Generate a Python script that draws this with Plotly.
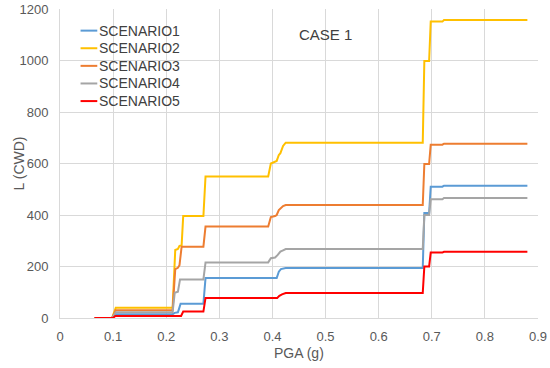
import plotly.graph_objects as go

# ---- data ----
s1_x = [0.065, 0.098, 0.105, 0.212, 0.216, 0.222, 0.227, 0.270, 0.274, 0.408, 0.412, 0.416, 0.425,
        0.683, 0.686, 0.695, 0.698, 0.720, 0.723, 0.880]
s1_y = [0, 0, 15, 15, 20, 22, 55, 55, 155, 155, 180, 190, 194, 194, 408, 408, 510, 510, 514, 514]

s2_x = [0.065, 0.098, 0.105, 0.212, 0.217, 0.222, 0.225, 0.229, 0.232, 0.270, 0.274, 0.392, 0.397,
        0.405, 0.408, 0.412, 0.415, 0.420, 0.425, 0.683, 0.686, 0.695, 0.698, 0.720, 0.723, 0.880]
s2_y = [0, 0, 40, 40, 264, 268, 280, 282, 396, 396, 550, 550, 600, 607, 610, 633, 640, 668, 681,
        681, 998, 998, 1151, 1151, 1157, 1157]

s3_x = [0.065, 0.098, 0.105, 0.212, 0.217, 0.222, 0.225, 0.229, 0.270, 0.274, 0.392, 0.397, 0.405,
        0.408, 0.412, 0.415, 0.420, 0.425, 0.683, 0.686, 0.695, 0.698, 0.720, 0.723, 0.880]
s3_y = [0, 0, 30, 30, 190, 195, 205, 277, 277, 355, 355, 392, 396, 400, 419, 425, 435, 439, 439,
        598, 598, 673, 673, 677, 677]

s4_x = [0.065, 0.098, 0.105, 0.212, 0.216, 0.222, 0.226, 0.270, 0.274, 0.392, 0.397, 0.405, 0.410,
        0.415, 0.420, 0.425, 0.683, 0.686, 0.695, 0.698, 0.720, 0.723, 0.880]
s4_y = [0, 0, 22, 22, 98, 102, 150, 150, 216, 216, 232, 235, 245, 258, 263, 268, 268, 400, 400,
        461, 461, 466, 466]

s5_x = [0.065, 0.100, 0.104, 0.228, 0.232, 0.270, 0.274, 0.409, 0.413, 0.418, 0.425, 0.683, 0.686,
        0.695, 0.698, 0.720, 0.723, 0.880]
s5_y = [0, 0, 8, 8, 25, 25, 78, 78, 86, 92, 97, 97, 200, 200, 254, 254, 257, 257]

names = ["SCENARIO1", "SCENARIO2", "SCENARIO3", "SCENARIO4", "SCENARIO5"]
colors = ["#5B9BD5", "#FFC000", "#ED7D31", "#A5A5A5", "#FF0000"]
x_ticks = [0, 0.1, 0.2, 0.3, 0.4, 0.5, 0.6, 0.7, 0.8, 0.9]
x_tick_labels = ["0", "0.1", "0.2", "0.3", "0.4", "0.5", "0.6", "0.7", "0.8", "0.9"]
y_ticks = [0, 200, 400, 600, 800, 1000, 1200]

series = [(s1_x, s1_y), (s2_x, s2_y), (s3_x, s3_y), (s4_x, s4_y), (s5_x, s5_y)]

fig = go.Figure()
for (xs, ys), name, col in zip(series, names, colors):
    fig.add_trace(go.Scatter(x=xs, y=ys, mode="lines", name=name, showlegend=False,
                             line=dict(color=col, width=2)))

font = "Liberation Sans, Arial, sans-serif"
grid = "#D9D9D9"

# Legend built as layout items (Excel-style compact legend)
annotations = []
shapes = []
leg_top = 0.930      # paper y of first row centre
leg_step = 0.0570    # paper y spacing between rows
for i, (name, col) in enumerate(zip(names, colors)):
    yy = leg_top - i * leg_step
    shapes.append(dict(type="line", xref="paper", yref="paper",
                       x0=0.043, x1=0.078, y0=yy, y1=yy,
                       line=dict(color=col, width=2)))
    annotations.append(dict(text=name, x=0.077, y=yy, xref="paper", yref="paper",
                            showarrow=False, xanchor="left", yanchor="middle",
                            font=dict(size=14, color="#404040")))

annotations += [
    dict(text="CASE 1", x=0.5, y=1100, xref="x", yref="y",
         showarrow=False, font=dict(size=15, color="#404040"),
         xanchor="center", yanchor="middle"),
    dict(text="PGA (g)", x=0.5, y=-0.113, xref="paper", yref="paper",
         showarrow=False, font=dict(size=14, color="#595959"),
         xanchor="center", yanchor="middle"),
    dict(text="L (CWD)", x=-0.086, y=0.5, xref="paper", yref="paper",
         showarrow=False, textangle=-90, font=dict(size=14, color="#595959"),
         xanchor="center", yanchor="middle"),
]

fig.update_layout(
    width=550, height=368,
    margin=dict(l=60, r=12, t=9, b=50, autoexpand=False),
    paper_bgcolor="white", plot_bgcolor="white",
    font=dict(family=font, color="#595959", size=13),
    annotations=annotations,
    shapes=shapes,
)
fig.update_xaxes(range=[0, 0.9], tickvals=x_ticks, ticktext=x_tick_labels,
                 showgrid=True, gridcolor=grid, gridwidth=1,
                 showline=True, linecolor=grid, linewidth=1,
                 zeroline=False, ticks="", ticklabelstandoff=6, automargin=False)
fig.update_yaxes(range=[0, 1200], tickvals=y_ticks,
                 showgrid=True, gridcolor=grid, gridwidth=1,
                 showline=True, linecolor=grid, linewidth=1,
                 zeroline=False, ticks="", ticklabelstandoff=8, automargin=False)

fig.write_html("out.html", config={"displayModeBar": False},
               post_script="document.body.style.margin='0';")
